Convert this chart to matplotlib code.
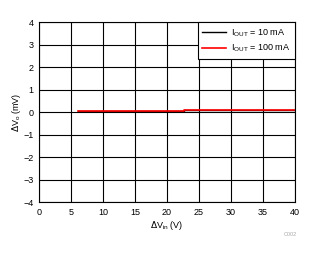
import matplotlib
matplotlib.use("Agg")
import matplotlib.pyplot as plt

plt.rcParams['font.family'] = ['Liberation Sans', 'DejaVu Sans']

vin_10 = [6.1, 22.7, 22.7, 40.0]
dvo_10 = [0.06, 0.06, 0.11, 0.11]
vin_100 = [6.1, 22.7, 22.7, 40.0]
dvo_100 = [0.06, 0.06, 0.11, 0.11]
xticks = [0, 5, 10, 15, 20, 25, 30, 35, 40]
yticks = [-4, -3, -2, -1, 0, 1, 2, 3, 4]

fig = plt.figure(figsize=(3.24, 2.54), dpi=100)
ax = fig.add_axes([39/324, 1 - 202/254, 256/324, 180/254])
ax.plot(vin_10, dvo_10, color='black', lw=1.0, label=r'I$_{\mathregular{OUT}}$ = 10 mA')
ax.plot(vin_100, dvo_100, color='red', lw=1.2, label=r'I$_{\mathregular{OUT}}$ = 100 mA')
ax.set_xlim(0, 40)
ax.set_ylim(-4, 4)
ax.set_xticks(xticks)
ax.set_yticks(yticks)
ax.grid(True, color='black', lw=0.8)
ax.tick_params(length=0, labelsize=6.5, pad=4)
for s in ax.spines.values():
    s.set_color('black')
    s.set_linewidth(0.8)
ax.set_xlabel(r'$\Delta$V$_{\mathregular{in}}$ (V)', fontsize=6.5, labelpad=2)
ax.set_ylabel(r'$\Delta$V$_{\mathregular{o}}$ (mV)', fontsize=6.5, labelpad=0)
leg = ax.legend(loc='upper right', fontsize=6.5, frameon=True, fancybox=False,
                borderaxespad=0, handlelength=2.6, handletextpad=0.6,
                borderpad=0.5, labelspacing=0.3, framealpha=1)
leg.get_frame().set_edgecolor('black')
leg.get_frame().set_linewidth(0.8)
fig.text(290/324, 1 - 235/254, 'C002', fontsize=4, color='#aaaaaa', ha='center', va='center')
fig.savefig('out.png', dpi=100)
